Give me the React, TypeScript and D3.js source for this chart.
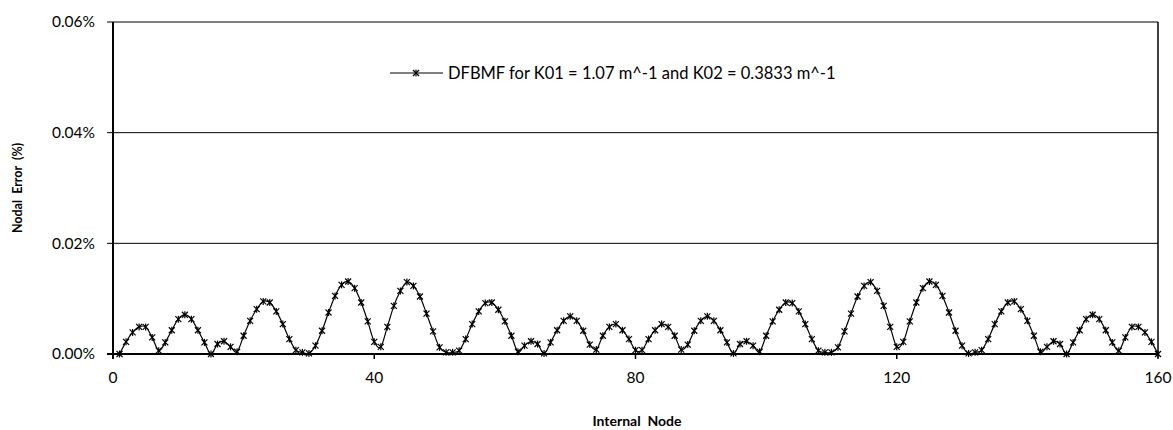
import React from "react";
import * as d3 from "d3";

// nodal error (%) for internal nodes 1..160
const nodes = d3.range(1, 161);
const errorValues = [
  0.0000, 0.0022, 0.0039, 0.0049, 0.0049, 0.0030, 0.0006, 0.0021, 0.0043, 0.0063,
  0.0071, 0.0063, 0.0043, 0.0021, 0.0000, 0.0018, 0.0023, 0.0013, 0.0004, 0.0033,
  0.0060, 0.0081, 0.0095, 0.0093, 0.0077, 0.0054, 0.0027, 0.0007, 0.0003, 0.0001,
  0.0015, 0.0042, 0.0075, 0.0105, 0.0125, 0.0131, 0.0119, 0.0093, 0.0059, 0.0022,
  0.0013, 0.0049, 0.0087, 0.0114, 0.0130, 0.0123, 0.0104, 0.0073, 0.0041, 0.0012,
  0.0003, 0.0003, 0.0006, 0.0027, 0.0054, 0.0077, 0.0092, 0.0093, 0.0080, 0.0059,
  0.0033, 0.0004, 0.0015, 0.0023, 0.0018, 0.0001, 0.0021, 0.0043, 0.0060, 0.0068,
  0.0060, 0.0042, 0.0017, 0.0008, 0.0033, 0.0049, 0.0054, 0.0043, 0.0027, 0.0007,
  0.0007, 0.0027, 0.0043, 0.0054, 0.0049, 0.0033, 0.0008, 0.0017, 0.0042, 0.0060,
  0.0068, 0.0060, 0.0043, 0.0021, 0.0001, 0.0018, 0.0023, 0.0015, 0.0004, 0.0033,
  0.0059, 0.0080, 0.0093, 0.0092, 0.0077, 0.0054, 0.0027, 0.0006, 0.0003, 0.0003,
  0.0012, 0.0041, 0.0073, 0.0104, 0.0123, 0.0130, 0.0114, 0.0087, 0.0049, 0.0013,
  0.0022, 0.0059, 0.0093, 0.0119, 0.0131, 0.0125, 0.0105, 0.0075, 0.0042, 0.0015,
  0.0001, 0.0003, 0.0007, 0.0027, 0.0054, 0.0077, 0.0093, 0.0095, 0.0081, 0.0060,
  0.0033, 0.0004, 0.0013, 0.0023, 0.0018, 0.0000, 0.0021, 0.0043, 0.0063, 0.0071,
  0.0063, 0.0043, 0.0021, 0.0006, 0.0030, 0.0049, 0.0049, 0.0039, 0.0022, 0.0000,
];
const xTicks = [0, 40, 80, 120, 160];
const yTicks = [0, 0.02, 0.04, 0.06];
const seriesName = "DFBMF for K01 = 1.07 m^-1 and K02 = 0.3833 m^-1";

const W = 1173;
const H = 430;
const left = 113, right = 1158, top = 22, bottom = 354;
const font = "Lato, 'Open Sans', sans-serif";

const Star = ({ x, y }: { x: number; y: number }) => (
  <g transform={`translate(${x},${y})`} stroke="#000" strokeWidth={1.2}>
    <line x1={-3} y1={-3} x2={3} y2={3} />
    <line x1={-3} y1={3} x2={3} y2={-3} />
    <line x1={0} y1={-3.5} x2={0} y2={3.5} />
  </g>
);

const App = () => {
  const x = d3.scaleLinear().domain([0, 160]).range([left, right]);
  const y = d3.scaleLinear().domain([0, 0.06]).range([bottom, top]);
  const pts: [number, number][] = nodes.map((n, i) => [x(n), y(errorValues[i])]);
  const line = d3.line().curve(d3.curveCatmullRom.alpha(0));
  const pct = d3.format(".2f");

  return (
    <svg width={W} height={H} style={{ position: "absolute", left: 0, top: 0, background: "#fff" }}>
      {/* gridlines */}
      {yTicks.map((t) => (
        <g key={t}>
          <line x1={left - 6} x2={right} y1={y(t)} y2={y(t)} stroke="#000" strokeWidth={1} />
          <text x={95} y={y(t)} dy="0.35em" textAnchor="end" fontFamily={font} fontSize={15.5}>
            {pct(t) + "%"}
          </text>
        </g>
      ))}
      <line x1={right} x2={right} y1={top} y2={bottom} stroke="#000" strokeWidth={1.5} />
      <line x1={left} x2={left} y1={top} y2={bottom + 5} stroke="#000" strokeWidth={2} />
      <line x1={left - 6} x2={right} y1={bottom} y2={bottom} stroke="#000" strokeWidth={2} />
      {xTicks.map((t) => (
        <g key={t}>
          <line x1={x(t)} x2={x(t)} y1={bottom} y2={bottom + 5} stroke="#000" strokeWidth={1.5} />
          <text x={x(t)} y={bottom + 24} dy="0.35em" textAnchor="middle" fontFamily={font} fontSize={15.5}>
            {t}
          </text>
        </g>
      ))}

      {/* series */}
      <path d={line(pts) || ""} fill="none" stroke="#000" strokeWidth={1.2} />
      {pts.map(([px, py], i) => (
        <Star key={i} x={px} y={py} />
      ))}

      {/* legend */}
      <line x1={390} x2={443} y1={73} y2={73} stroke="#000" strokeWidth={1.2} />
      <Star x={416} y={73} />
      <text x={448} y={73} dy="0.35em" fontFamily={font} fontSize={16.5}>
        {seriesName}
      </text>

      {/* axis titles */}
      <text
        transform={`translate(18,${(top + bottom) / 2}) rotate(-90)`}
        textAnchor="middle"
        dy="0.35em"
        fontFamily={font}
        fontWeight="bold"
        fontSize={12.5}
        style={{ whiteSpace: "pre" }}
      >
        {"Nodal  Error  (%)"}
      </text>
      <text
        x={637}
        y={421}
        textAnchor="middle"
        dy="0.35em"
        fontFamily={font}
        fontWeight="bold"
        fontSize={14}
        style={{ whiteSpace: "pre" }}
      >
        {"Internal  Node"}
      </text>
    </svg>
  );
};

export default App;
